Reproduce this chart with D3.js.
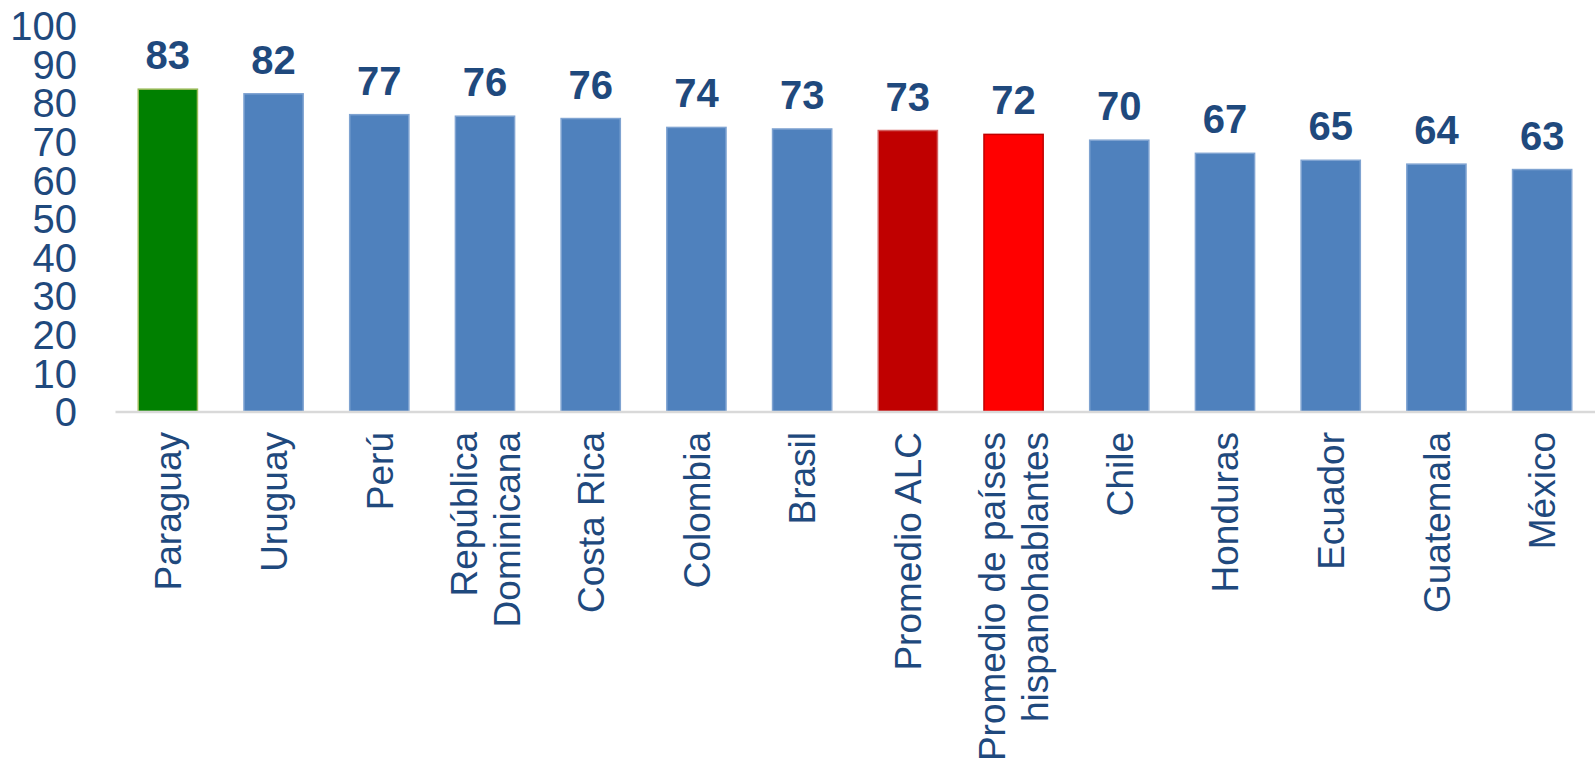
<!DOCTYPE html>
<html>
<head>
<meta charset="utf-8">
<script src="https://cdn.jsdelivr.net/npm/d3@7"></script>
<style>
html,body{margin:0;padding:0;background:#fff;}
svg{display:block;font-family:"Liberation Sans",Arial,sans-serif;}
</style>
</head>
<body>
<svg id="chart" width="1595" height="766"></svg>
<script>
const categories = [
  ["Paraguay"], ["Uruguay"], ["Perú"], ["República", "Dominicana"], ["Costa Rica"],
  ["Colombia"], ["Brasil"], ["Promedio ALC"], ["Promedio de países", "hispanohablantes"],
  ["Chile"], ["Honduras"], ["Ecuador"], ["Guatemala"], ["México"]
];
const values = [83.4, 82.2, 76.8, 76.4, 75.8, 73.5, 73.1, 72.7, 71.7, 70.2, 66.8, 65.0, 64.0, 62.6];
const barColors = ["#008000", "#4F81BD", "#4F81BD", "#4F81BD", "#4F81BD", "#4F81BD", "#4F81BD",
  "#C00000", "#FF0000", "#4F81BD", "#4F81BD", "#4F81BD", "#4F81BD", "#4F81BD"];
const barStrokes = ["#9BBB59", "#7FA3D1", "#7FA3D1", "#7FA3D1", "#7FA3D1", "#7FA3D1", "#7FA3D1",
  "#D46060", "#C00000", "#7FA3D1", "#7FA3D1", "#7FA3D1", "#7FA3D1", "#7FA3D1"];
const yTicks = [0, 10, 20, 30, 40, 50, 60, 70, 80, 90, 100];

const textColor = "#1F497D";
const svg = d3.select("#chart");
const idx = d3.range(values.length);

const x = d3.scaleBand().domain(idx).range([115, 1595]).paddingInner(0.44).paddingOuter(0.22);
const y = d3.scaleLinear().domain([0, 100]).range([411.5, 25]);

// y tick labels
const yAxis = d3.axisLeft(y).tickValues(yTicks).tickSize(0).tickPadding(0);
const yg = svg.append("g").attr("transform", "translate(77,0)").call(yAxis);
yg.select(".domain").remove();
yg.selectAll("text")
  .attr("fill", textColor)
  .style("font-size", "40px")
  .style("font-family", "'Liberation Sans',Arial,sans-serif")
  .attr("dy", "0.36em");

// bars
svg.append("g").selectAll("rect").data(idx).join("rect")
  .attr("x", i => x(i))
  .attr("y", i => y(values[i]))
  .attr("width", x.bandwidth())
  .attr("height", i => y(0) - y(values[i]))
  .attr("fill", i => barColors[i])
  .attr("stroke", i => barStrokes[i])
  .attr("stroke-width", 1.5);

// baseline
const xAxis = d3.axisBottom(x).tickSize(0).tickFormat("");
const xg = svg.append("g").attr("transform", `translate(0,${y(0)})`).call(xAxis);
xg.select(".domain").attr("stroke", "#D9D9D9").attr("stroke-width", 2.5);

// value labels
svg.append("g").selectAll("text").data(idx).join("text")
  .attr("x", i => x(i) + x.bandwidth() / 2)
  .attr("y", i => y(values[i]) - 20)
  .attr("text-anchor", "middle")
  .attr("fill", textColor)
  .style("font-size", "40px")
  .style("font-weight", "bold")
  .text(i => Math.round(values[i]));

// category labels (rotated)
const lineH = 43;
const cg = svg.append("g").selectAll("g").data(idx).join("g")
  .attr("transform", i => `translate(${x(i) + x.bandwidth() / 2},432) rotate(-90)`);
cg.each(function (i) {
  const lines = categories[i];
  const n = lines.length;
  d3.select(this).selectAll("text").data(lines).join("text")
    .attr("x", 0)
    .attr("y", (d, k) => (k - (n - 1) / 2) * lineH)
    .attr("dy", "0.36em")
    .attr("text-anchor", "end")
    .attr("fill", textColor)
    .style("font-size", "37px")
    .text(d => d);
});
</script>
</body>
</html>
